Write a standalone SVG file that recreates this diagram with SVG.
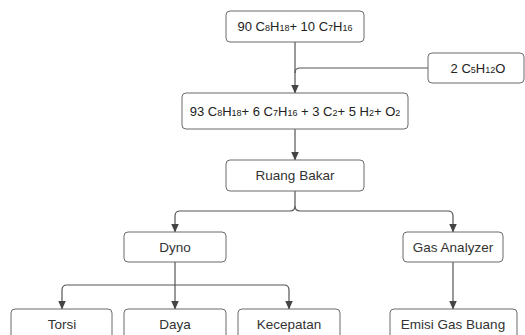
<svg xmlns="http://www.w3.org/2000/svg" width="525" height="335" viewBox="0 0 525 335">
<style>
.box{fill:#fff;stroke:#6b6b6b;stroke-width:1}
.t{font-family:"Liberation Sans",Arial,sans-serif;font-size:13.5px;fill:#333;text-anchor:middle}
.f{font-family:"Liberation Sans",Arial,sans-serif;font-size:13px;fill:#222;text-anchor:middle}
.s{font-size:9px}
.c{fill:none;stroke:#555;stroke-width:1.2}
</style>
<defs>
<marker id="ah" markerUnits="userSpaceOnUse" markerWidth="9" markerHeight="9" viewBox="0 0 9 9" refX="8.5" refY="4.5" orient="auto">
<path d="M0,0.5 L9,4.5 L0,8.5 Z" fill="#444"/>
</marker>
</defs>
<rect width="525" height="335" fill="#fff"/>
<g id="connectors">
<path class="c" d="M295,42 V93" marker-end="url(#ah)"/>
<path class="c" d="M428,68 H300 Q295,68 295,73"/>
<path class="c" d="M295,129 V160" marker-end="url(#ah)"/>
<path class="c" d="M295,191 V206 Q295,211 290,211 H180 Q175,211 175,216 V232" marker-end="url(#ah)"/>
<path class="c" d="M295,206 Q295,211 300,211 H448 Q453,211 453,216 V232" marker-end="url(#ah)"/>
<path class="c" d="M175,262 V309" marker-end="url(#ah)"/>
<path class="c" d="M175,285 H67 Q62,285 62,290 V309" marker-end="url(#ah)"/>
<path class="c" d="M175,285 H284 Q289,285 289,290 V309" marker-end="url(#ah)"/>
<path class="c" d="M453,262 V309" marker-end="url(#ah)"/>
</g>
<g id="n1">
<rect class="box" x="226" y="11" width="138" height="31" rx="4"/>
<text class="f" x="295" y="31">90 C<tspan class="s">8</tspan>H<tspan class="s">18</tspan>+ 10 C<tspan class="s">7</tspan>H<tspan class="s">16</tspan></text>
</g>
<g id="n2">
<rect class="box" x="428" y="53" width="96" height="30" rx="4"/>
<text class="f" x="478" y="72.5">2 C<tspan class="s">5</tspan>H<tspan class="s">12</tspan>O</text>
</g>
<g id="n3">
<rect class="box" x="182" y="93" width="226" height="36" rx="4"/>
<text class="f" x="295" y="115.5">93 C<tspan class="s">8</tspan>H<tspan class="s">18</tspan>+ 6 C<tspan class="s">7</tspan>H<tspan class="s">16</tspan> + 3 C<tspan class="s">2</tspan>+ 5 H<tspan class="s">2</tspan>+ O<tspan class="s">2</tspan></text>
</g>
<g id="n4">
<rect class="box" x="226" y="160" width="138" height="31" rx="4"/>
<text class="t" x="295" y="180">Ruang Bakar</text>
</g>
<g id="n5">
<rect class="box" x="124" y="232" width="102" height="30" rx="4"/>
<text class="t" x="175" y="251.5">Dyno</text>
</g>
<g id="n6">
<rect class="box" x="403" y="232" width="100" height="30" rx="4"/>
<text class="t" x="453" y="251.5">Gas Analyzer</text>
</g>
<g id="n7">
<rect class="box" x="11" y="309" width="101" height="32" rx="4"/>
<text class="t" x="62" y="328.5">Torsi</text>
</g>
<g id="n8">
<rect class="box" x="124" y="309" width="102" height="32" rx="4"/>
<text class="t" x="175" y="328.5">Daya</text>
</g>
<g id="n9">
<rect class="box" x="238" y="309" width="102" height="32" rx="4"/>
<text class="t" x="289" y="328.5">Kecepatan</text>
</g>
<g id="n10">
<rect class="box" x="390" y="309" width="127" height="32" rx="4"/>
<text class="t" x="453" y="328.5">Emisi Gas Buang</text>
</g>
</svg>
